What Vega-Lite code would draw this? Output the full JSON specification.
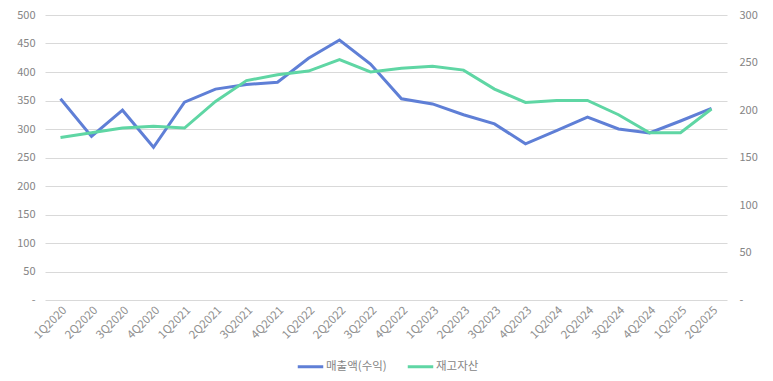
{
  "$schema": "https://vega.github.io/schema/vega-lite/v6.json",
  "autosize": "none",
  "width": 682,
  "height": 285,
  "padding": {"left": 45, "top": 15, "right": 46, "bottom": 81},
  "background": "#ffffff",
  "config": {
    "view": {"stroke": null},
    "font": "Noto Sans CJK KR",
    "axis": {"labelColor": "#858585", "labelFontSize": 11, "domain": false, "ticks": false, "gridColor": "#d9d9d9", "gridWidth": 1, "title": null}
  },
  "datasets": {
    "rows": [
      {"q": "1Q2020", "s": "매출액(수익)", "v": 353}, {"q": "2Q2020", "s": "매출액(수익)", "v": 287},
      {"q": "3Q2020", "s": "매출액(수익)", "v": 333}, {"q": "4Q2020", "s": "매출액(수익)", "v": 268},
      {"q": "1Q2021", "s": "매출액(수익)", "v": 347}, {"q": "2Q2021", "s": "매출액(수익)", "v": 370},
      {"q": "3Q2021", "s": "매출액(수익)", "v": 378}, {"q": "4Q2021", "s": "매출액(수익)", "v": 382},
      {"q": "1Q2022", "s": "매출액(수익)", "v": 424}, {"q": "2Q2022", "s": "매출액(수익)", "v": 456},
      {"q": "3Q2022", "s": "매출액(수익)", "v": 414}, {"q": "4Q2022", "s": "매출액(수익)", "v": 353},
      {"q": "1Q2023", "s": "매출액(수익)", "v": 344}, {"q": "2Q2023", "s": "매출액(수익)", "v": 325},
      {"q": "3Q2023", "s": "매출액(수익)", "v": 309}, {"q": "4Q2023", "s": "매출액(수익)", "v": 274},
      {"q": "1Q2024", "s": "매출액(수익)", "v": 297}, {"q": "2Q2024", "s": "매출액(수익)", "v": 321},
      {"q": "3Q2024", "s": "매출액(수익)", "v": 300}, {"q": "4Q2024", "s": "매출액(수익)", "v": 293},
      {"q": "1Q2025", "s": "매출액(수익)", "v": 314}, {"q": "2Q2025", "s": "매출액(수익)", "v": 336},
      {"q": "1Q2020", "s": "재고자산", "v": 171}, {"q": "2Q2020", "s": "재고자산", "v": 176},
      {"q": "3Q2020", "s": "재고자산", "v": 181}, {"q": "4Q2020", "s": "재고자산", "v": 183},
      {"q": "1Q2021", "s": "재고자산", "v": 181}, {"q": "2Q2021", "s": "재고자산", "v": 209},
      {"q": "3Q2021", "s": "재고자산", "v": 231}, {"q": "4Q2021", "s": "재고자산", "v": 237},
      {"q": "1Q2022", "s": "재고자산", "v": 241}, {"q": "2Q2022", "s": "재고자산", "v": 253},
      {"q": "3Q2022", "s": "재고자산", "v": 240}, {"q": "4Q2022", "s": "재고자산", "v": 244},
      {"q": "1Q2023", "s": "재고자산", "v": 246}, {"q": "2Q2023", "s": "재고자산", "v": 242},
      {"q": "3Q2023", "s": "재고자산", "v": 222}, {"q": "4Q2023", "s": "재고자산", "v": 208},
      {"q": "1Q2024", "s": "재고자산", "v": 210}, {"q": "2Q2024", "s": "재고자산", "v": 210},
      {"q": "3Q2024", "s": "재고자산", "v": 195}, {"q": "4Q2024", "s": "재고자산", "v": 176},
      {"q": "1Q2025", "s": "재고자산", "v": 176}, {"q": "2Q2025", "s": "재고자산", "v": 201}
    ]
  },
  "data": {"name": "rows"},
  "encoding": {
    "x": {"field": "q", "type": "ordinal", "sort": null,
      "scale": {"type": "point", "padding": 0.5},
      "axis": {"labelAngle": -45, "labelFontSize": 11.5, "grid": false, "labelPadding": 4, "labelColor": "#909090"}},
    "color": {"field": "s", "type": "nominal",
      "scale": {"domain": ["매출액(수익)", "재고자산"], "range": ["#5f7fd6", "#5fd6a4"]},
      "legend": {"orient": "none", "legendX": 251, "legendY": 337, "direction": "horizontal", "title": null,
        "symbolType": "stroke", "symbolStrokeWidth": 3, "symbolSize": 650, "labelFontSize": 11.5, "labelColor": "#858585", "labelOffset": 1, "columnPadding": 14}}
  },
  "layer": [
    {
      "transform": [{"filter": "datum.s == '매출액(수익)'"}],
      "mark": {"type": "line", "strokeWidth": 3},
      "encoding": {
        "y": {"field": "v", "type": "quantitative",
          "scale": {"domain": [0, 500]},
          "axis": {"orient": "left", "values": [0,50,100,150,200,250,300,350,400,450,500], "labelExpr": "datum.value == 0 ? '-' : datum.label", "labelPadding": 10, "grid": true}}
      }
    },
    {
      "transform": [{"filter": "datum.s == '재고자산'"}],
      "mark": {"type": "line", "strokeWidth": 3},
      "encoding": {
        "y": {"field": "v", "type": "quantitative",
          "scale": {"domain": [0, 300]},
          "axis": {"orient": "right", "values": [0,50,100,150,200,250,300], "labelExpr": "datum.value == 0 ? '-' : datum.label", "labelPadding": 12, "grid": false}}
      }
    }
  ],
  "resolve": {"scale": {"y": "independent"}}
}
